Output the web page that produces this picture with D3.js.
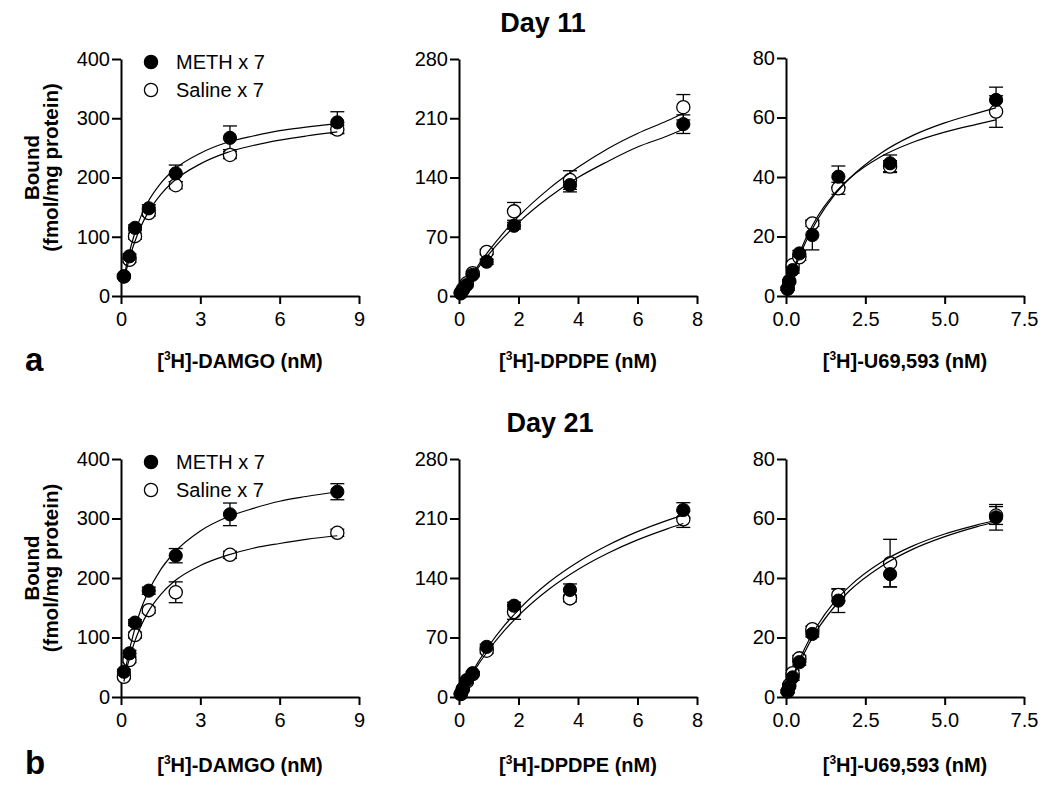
<!DOCTYPE html>
<html>
<head>
<meta charset="utf-8">
<script src="https://cdn.jsdelivr.net/npm/d3@7"></script>
<style>
body { margin: 0; background: #fff; }
svg { display: block; font-family: Arial, "Liberation Sans", sans-serif; }
.tick text { font-size: 20px; fill: #000; }
.domain, .tick line { stroke: #000; stroke-width: 2px; }
</style>
</head>
<body>
<svg id="chart" width="1050" height="800"></svg>
<script>
// concentrations (nM) for each ligand
var damgoConc = [0.11, 0.32, 0.53, 1.05, 2.07, 4.12, 8.18];
var dpdpeConc = [0.06, 0.13, 0.26, 0.46, 0.93, 1.85, 3.73, 7.54];
var u69Conc = [0.05, 0.10, 0.21, 0.42, 0.83, 1.65, 3.28, 6.62];

// Day 11 bound (fmol/mg protein), mean and SEM
var d11DamgoMeth = [33, 67, 115, 148, 207, 267, 293];
var d11DamgoMethErr = [3, 4, 5, 6, 14, 20, 18];
var d11DamgoSal = [33, 61, 101, 140, 187, 238, 281];
var d11DamgoSalErr = [3, 4, 5, 5, 6, 6, 7];
var d11DpdpeMeth = [3, 7, 13, 25, 40.5, 83, 131, 203];
var d11DpdpeMethErr = [1, 1, 2, 2, 3, 4, 8, 11];
var d11DpdpeSal = [4, 8, 15, 27, 52, 100, 137, 223];
var d11DpdpeSalErr = [1, 1, 2, 2, 3, 10.5, 11, 15];
var d11U69Meth = [2.4, 4.8, 8.7, 14.3, 20.5, 40.1, 44.6, 65.9];
var d11U69MethErr = [0.5, 0.5, 1, 1, 5, 3.6, 2.8, 4.3];
var d11U69Sal = [2.5, 5, 10.4, 13, 24.4, 36.2, 43.5, 62];
var d11U69SalErr = [0.5, 0.5, 1, 1, 1, 2, 2, 5.3];

// Day 21
var d21DamgoMeth = [42.5, 73.4, 125, 178.7, 237.5, 307, 345];
var d21DamgoMethErr = [4, 5, 5, 6, 12, 19, 13.5];
var d21DamgoSal = [34, 62, 104, 146, 176, 239, 276];
var d21DamgoSalErr = [3, 4, 5, 5, 17.5, 6, 6];
var d21DpdpeMeth = [4, 10, 20, 28, 59, 107.4, 126, 220];
var d21DpdpeMethErr = [1, 1, 2, 2, 3, 4, 7, 8.6];
var d21DpdpeSal = [3.5, 9, 18, 27, 54.5, 100, 116, 209];
var d21DpdpeSalErr = [1, 1, 2, 2, 3, 8.6, 4, 9.5];
var d21U69Meth = [1.8, 3.5, 6.6, 11.7, 21.2, 32.4, 41.3, 60.4];
var d21U69MethErr = [0.5, 0.5, 1, 1, 1, 4, 4.3, 4.3];
var d21U69Sal = [2, 4, 8, 13, 22.8, 34.3, 45, 61];
var d21U69SalErr = [0.5, 0.5, 1, 1, 1, 2, 8, 3];

// fitted curves
var damgoCurveX = [0.11, 0.25, 0.5, 0.75, 1, 1.5, 2, 3, 4, 5, 6, 7, 8.18];
var d11DamgoMethCurve = [30, 61, 103, 134, 157, 190, 213, 241, 259, 270, 279, 285, 291];
var d11DamgoSalCurve = [25, 52, 89, 117, 139, 171, 194, 223, 242, 254, 263, 270, 277];
var d21DamgoMethCurve = [31, 64.5, 111, 147, 174, 214, 242, 279, 302, 317, 329, 337, 345];
var d21DamgoSalCurve = [26, 53.4, 91, 119, 141, 172, 194, 221, 238, 250, 258, 265, 271];
var dpdpeCurveX = [0.06, 0.25, 0.5, 1, 1.5, 2, 3, 4, 5, 6, 7, 7.54];
var d11DpdpeMethCurve = [3.4, 13.7, 26.5, 49.3, 69.2, 86.7, 116, 140, 159, 176, 189, 197];
var d11DpdpeSalCurve = [3.7, 14.8, 28.6, 53.3, 75, 94, 126, 152, 174, 192, 207, 216];
var d21DpdpeMethCurve = [4.3, 17.2, 32.8, 60, 83, 102.6, 134.4, 158.9, 178.5, 194.5, 207.8, 214];
var d21DpdpeSalCurve = [3.9, 15.8, 30.3, 55.6, 77.2, 95.8, 126.2, 150, 169.1, 184.8, 197.8, 204.2];
var u69CurveX = [0.05, 0.25, 0.5, 1, 1.5, 2, 3, 4, 5, 6, 6.62];
var d11U69MethCurve = [1.8, 8.3, 15.2, 25.8, 33.6, 39.5, 48.1, 54, 58.2, 61.4, 63.3];
var d11U69SalCurve = [2.0, 9.1, 16.3, 26.8, 34.1, 39.5, 46.9, 51.7, 55.1, 57.7, 59.2];
var d21U69MethCurve = [1.5, 7.2, 13.2, 22.8, 30, 35.7, 43.9, 49.7, 53.9, 57.2, 58.9];
var d21U69SalCurve = [1.7, 7.8, 14.3, 24.2, 31.6, 37.2, 45.3, 50.8, 54.8, 57.8, 59.4];

// axis ticks
var damgoXTicks = [0, 3, 6, 9];
var dpdpeXTicks = [0, 2, 4, 6, 8];
var u69XTicks = [0, 2.5, 5, 7.5];
var damgoYTicks = [0, 100, 200, 300, 400];
var dpdpeYTicks = [0, 70, 140, 210, 280];
var u69YTicks = [0, 20, 40, 60, 80];

var legendLabels = ["METH x 7", "Saline x 7"];
var dayTitles = ["Day 11", "Day 21"];
var panelLetters = ["a", "b"];

var svg = d3.select("#chart");

var columns = [
    {left: 121, right: 359, xTicks: damgoXTicks, yTicks: damgoYTicks, fmt: d3.format("d"), name: "DAMGO", conc: damgoConc, curveX: damgoCurveX},
    {left: 459, right: 697, xTicks: dpdpeXTicks, yTicks: dpdpeYTicks, fmt: d3.format("d"), name: "DPDPE", conc: dpdpeConc, curveX: dpdpeCurveX},
    {left: 786, right: 1024, xTicks: u69XTicks, yTicks: u69YTicks, fmt: d3.format(".1f"), name: "U69,593", conc: u69Conc, curveX: u69CurveX}
];
var rows = [
    {bottom: 296, top: 59, sets: [
        [d11DamgoMeth, d11DamgoMethErr, d11DamgoSal, d11DamgoSalErr, d11DamgoMethCurve, d11DamgoSalCurve],
        [d11DpdpeMeth, d11DpdpeMethErr, d11DpdpeSal, d11DpdpeSalErr, d11DpdpeMethCurve, d11DpdpeSalCurve],
        [d11U69Meth, d11U69MethErr, d11U69Sal, d11U69SalErr, d11U69MethCurve, d11U69SalCurve]]},
    {bottom: 697, top: 459, sets: [
        [d21DamgoMeth, d21DamgoMethErr, d21DamgoSal, d21DamgoSalErr, d21DamgoMethCurve, d21DamgoSalCurve],
        [d21DpdpeMeth, d21DpdpeMethErr, d21DpdpeSal, d21DpdpeSalErr, d21DpdpeMethCurve, d21DpdpeSalCurve],
        [d21U69Meth, d21U69MethErr, d21U69Sal, d21U69SalErr, d21U69MethCurve, d21U69SalCurve]]}
];

var radius = 6.6;

rows.forEach(function (row, r) {
    columns.forEach(function (col, c) {
        drawPanel(row, col, row.sets[c], r, c);
    });

    // day title, panel letter, y axis title, legend
    svg.append("text")
        .attr("x", r === 0 ? 543 : 550)
        .attr("y", row.top - 27)
        .attr("text-anchor", "middle")
        .style("font-size", "27px").style("font-weight", "bold")
        .text(dayTitles[r]);
    svg.append("text")
        .attr("x", 25)
        .attr("y", row.bottom + 75 + r * 2)
        .style("font-size", "33px").style("font-weight", "bold")
        .text(panelLetters[r]);
    var midY = (row.top + row.bottom) / 2 - 10;
    svg.append("text")
        .attr("transform", "translate(39," + midY + ") rotate(-90)")
        .attr("text-anchor", "middle")
        .style("font-size", "20.5px").style("font-weight", "bold")
        .text("Bound");
    svg.append("text")
        .attr("transform", "translate(58," + midY + ") rotate(-90)")
        .attr("text-anchor", "middle")
        .style("font-size", "20.5px").style("font-weight", "bold")
        .text("(fmol/mg protein)");

    legendLabels.forEach(function (label, i) {
        var ly = row.top + 3 + i * 28;
        svg.append("circle")
            .attr("cx", 151).attr("cy", ly).attr("r", radius)
            .attr("fill", i === 0 ? "#000" : "#fff")
            .attr("stroke", "#000").attr("stroke-width", 1.3);
        svg.append("text")
            .attr("x", 176).attr("y", ly + 7)
            .style("font-size", "20px")
            .text(label);
    });
});

function drawPanel(row, col, set, r, c) {
    var x = d3.scaleLinear()
        .domain([col.xTicks[0], col.xTicks[col.xTicks.length - 1]])
        .range([col.left, col.right]);
    var y = d3.scaleLinear()
        .domain([col.yTicks[0], col.yTicks[col.yTicks.length - 1]])
        .range([row.bottom, c === 2 && r === 0 ? row.top - 1 : row.top]);

    var g = svg.append("g");

    g.append("g")
        .attr("transform", "translate(0," + row.bottom + ")")
        .call(d3.axisBottom(x).tickValues(col.xTicks).tickFormat(col.fmt)
            .tickSize(8).tickSizeOuter(0).tickPadding(8));
    g.append("g")
        .attr("transform", "translate(" + col.left + ",0)")
        .call(d3.axisLeft(y).tickValues(col.yTicks).tickFormat(d3.format("d"))
            .tickSize(9).tickSizeOuter(0).tickPadding(2));

    // x axis title with superscript 3
    var label = g.append("text")
        .attr("x", (col.left + col.right) / 2)
        .attr("y", row.bottom + 72 + r * 3)
        .attr("text-anchor", "middle")
        .style("font-size", "20px").style("font-weight", "bold");
    label.append("tspan").text("[");
    label.append("tspan").attr("dy", -8).style("font-size", "12px").text("3");
    label.append("tspan").attr("dy", 8).text("H]-" + col.name + " (nM)");

    var line = d3.line()
        .x(function (d) { return x(d[0]); })
        .y(function (d) { return y(d[1]); })
        .curve(d3.curveMonotoneX);

    var meth = col.conc.map(function (v, i) { return {x: v, y: set[0][i], e: set[1][i]}; });
    var sal = col.conc.map(function (v, i) { return {x: v, y: set[2][i], e: set[3][i]}; });

    [sal, meth].forEach(function (pts) {
        var bars = g.selectAll(null).data(pts).enter().append("g")
            .attr("stroke", "#000").attr("stroke-width", 1.3);
        bars.append("line")
            .attr("x1", function (d) { return x(d.x); })
            .attr("x2", function (d) { return x(d.x); })
            .attr("y1", function (d) { return y(d.y - d.e); })
            .attr("y2", function (d) { return y(d.y + d.e); });
        [1, -1].forEach(function (s) {
            bars.append("line")
                .attr("x1", function (d) { return x(d.x) - 7; })
                .attr("x2", function (d) { return x(d.x) + 7; })
                .attr("y1", function (d) { return y(d.y + s * d.e); })
                .attr("y2", function (d) { return y(d.y + s * d.e); });
        });
    });

    g.selectAll(null).data(sal).enter().append("circle")
        .attr("cx", function (d) { return x(d.x); })
        .attr("cy", function (d) { return y(d.y); })
        .attr("r", radius)
        .attr("fill", "#fff").attr("stroke", "#000").attr("stroke-width", 1.3);

    [set[4], set[5]].forEach(function (curveY) {
        g.append("path")
            .datum(col.curveX.map(function (v, i) { return [v, curveY[i]]; }))
            .attr("d", line)
            .attr("fill", "none").attr("stroke", "#000").attr("stroke-width", 1.2);
    });

    g.selectAll(null).data(meth).enter().append("circle")
        .attr("cx", function (d) { return x(d.x); })
        .attr("cy", function (d) { return y(d.y); })
        .attr("r", radius)
        .attr("fill", "#000").attr("stroke", "#000").attr("stroke-width", 1);
}
</script>
</body>
</html>
